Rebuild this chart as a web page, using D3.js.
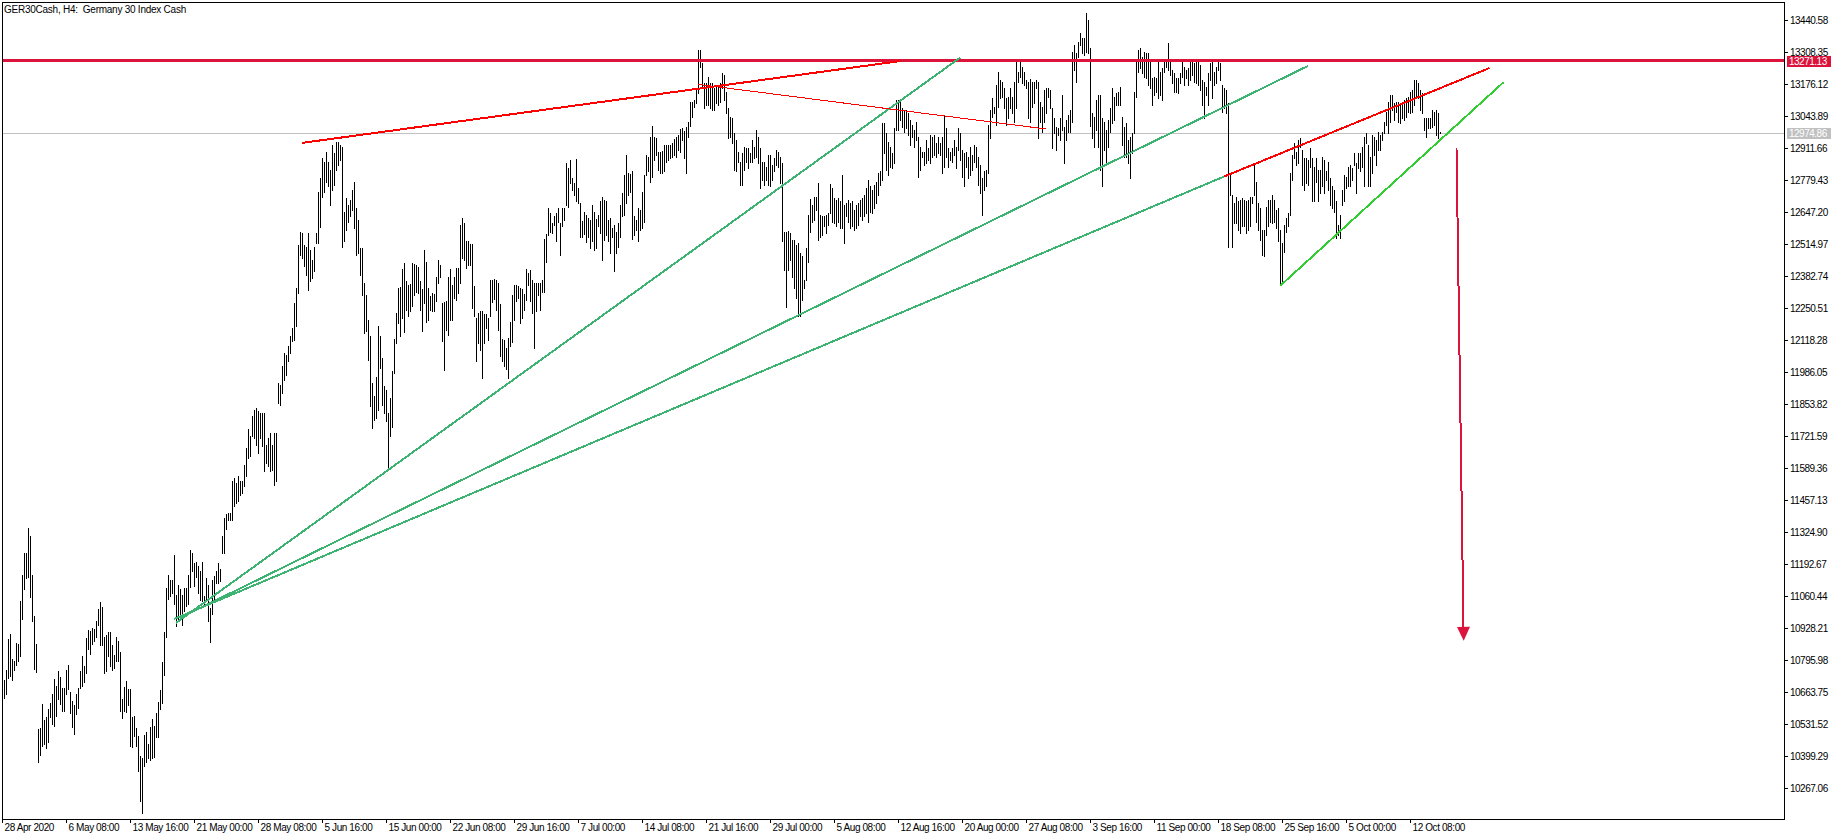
<!DOCTYPE html>
<html><head><meta charset="utf-8">
<script src="https://cdn.jsdelivr.net/npm/d3@7"></script>
<style>
html,body{margin:0;padding:0;background:#fff;}
svg{display:block;}
text{font-family:"Liberation Sans",Arial,sans-serif;}
</style></head>
<body><svg id="c" width="1842" height="840"></svg>
<script>
// ---------------- DATA ----------------
const chartTitle = "GER30Cash, H4:  Germany 30 Index Cash";

const barHigh = [
10715,10756,10883,10903,10798,10791,10866,10864,11041,11148,
11238,11238,11341,11309,11148,10979,10864,10511,10514,10616,
10547,10559,10594,10617,10657,10718,10690,10749,10726,10681,
10681,10756,10777,10663,10626,10608,10657,10681,10752,10811,
10770,10886,10919,10917,10928,10925,10956,11007,11036,11015,
10891,10901,10910,10910,10857,10818,10890,10876,10828,10636,
10685,10708,10678,10676,10559,10564,10515,10481,10401,10393,
10488,10499,10447,10518,10554,10522,10577,10623,10670,10788,
10913,11093,11148,11125,11125,11231,11066,11106,11089,11066,
11093,11093,11148,11249,11238,11197,11201,11183,11162,11201,
11059,11135,11104,11011,11128,11142,11163,11197,11170,11307,
11383,11399,11403,11403,11534,11548,11527,11555,11534,11534,
11603,11672,11752,11720,11802,11830,11837,11823,11816,11816,
11816,11685,11713,11734,11685,11734,11734,11940,11933,12009,
12064,12057,12091,12133,12167,12270,12332,12511,12566,12559,
12511,12504,12559,12490,12449,12504,12559,12731,12786,12869,
12855,12896,12855,12820,12924,12889,12937,12937,12924,12917,
12648,12704,12676,12697,12738,12772,12662,12614,12497,12497,
12353,12305,12201,12133,11940,11885,11967,12174,12133,12043,
11926,11913,11816,11878,11991,12122,12229,12332,12335,12412,
12435,12362,12346,12350,12435,12431,12428,12421,12360,12328,
12490,12439,12332,12298,12311,12307,12376,12449,12428,12270,
12273,12277,12379,12412,12346,12377,12415,12415,12593,12621,
12603,12527,12525,12515,12515,12342,12208,12229,12236,12236,
12226,12226,12208,12364,12366,12369,12366,12353,12266,12122,
12119,12084,12126,12194,12304,12346,12346,12342,12332,12328,
12309,12410,12394,12408,12366,12355,12353,12353,12355,12364,
12536,12555,12662,12642,12600,12628,12642,12665,12600,12662,
12662,12850,12830,12860,12786,12765,12865,12745,12683,12611,
12646,12635,12621,12614,12676,12648,12618,12635,12690,12710,
12697,12690,12614,12621,12580,12593,12566,12603,12676,12724,
12800,12882,12809,12803,12816,12628,12614,12662,12655,12731,
12800,12882,12875,12958,13002,12958,12951,12896,12896,12900,
12924,12924,12924,12924,12930,12947,12958,12965,12988,12992,
12983,12999,13020,13102,13102,13109,13151,13316,13316,13261,
13178,13178,13206,13178,13181,13157,13167,13167,13178,13219,
13212,13144,13075,13041,13034,12972,12944,12896,12855,12892,
12917,12910,12910,12889,12944,12917,12986,12958,12910,12855,
12855,12834,12882,12882,12841,12869,12903,12896,12875,12848,
12562,12566,12570,12559,12532,12532,12511,12518,12477,12463,
12366,12497,12635,12699,12676,12710,12710,12765,12635,12628,
12628,12635,12642,12761,12745,12703,12697,12703,12690,12800,
12676,12683,12697,12683,12690,12655,12676,12683,12697,12703,
12717,12745,12779,12752,12738,12758,12772,12807,12814,13013,
13013,12972,12937,12917,12889,12992,13109,13109,13102,13075,
13068,13068,13054,13027,13006,12986,13020,12958,12917,12896,
12896,12944,12910,12965,12958,12965,12930,12958,12930,12958,
13047,12992,12910,12896,12910,12944,12917,12992,12972,12903,
12889,12896,12875,12917,12882,12924,12917,12875,12841,12786,
12814,12820,13006,13068,13116,13082,13171,13226,13192,13185,
13157,13116,13123,13157,13123,13185,13268,13226,13268,13247,
13226,13192,13185,13195,13185,13185,13192,13185,13102,13082,
13151,13157,13157,13151,13075,13034,12999,12992,13034,13130,
12999,13027,13047,13068,13309,13336,13302,13350,13384,13364,
13364,13467,13439,13323,13054,13040,13109,13130,13130,13034,
13020,12986,13027,13075,13157,13123,13137,13144,13164,13041,
12999,13013,12944,12958,12972,13144,13268,13316,13323,13288,
13309,13302,13302,13268,13199,13206,13199,13268,13226,13240,
13274,13268,13343,13268,13233,13219,13199,13199,13219,13268,
13247,13233,13240,13268,13268,13261,13268,13268,13254,13192,
13185,13164,13219,13261,13268,13226,13247,13268,13261,13171,
13157,13151,13096,12800,12717,12683,12710,12690,12697,12703,
12697,12690,12697,12710,12710,12841,12772,12683,12662,12573,
12573,12669,12697,12697,12717,12697,12655,12662,12573,12518,
12593,12621,12642,12807,12882,12930,12896,12944,12951,12903,
12869,12869,12862,12910,12869,12834,12869,12820,12820,12875,
12862,12814,12855,12786,12752,12738,12690,12593,12635,12738,
12800,12793,12834,12841,12827,12889,12848,12889,12889,12917,
12958,12972,12924,12875,12965,12958,12944,12979,12965,12979,
13020,13061,13102,13130,13130,13096,13102,13102,13089,13089,
13109,13116,13123,13144,13151,13192,13192,13178,13151,13137,
13034,13034,13034,13034,13068,13061,13068,13054,12979
];

const barLow = [
10637,10656,10722,10729,10715,10756,10774,10791,10811,10965,
11089,11135,11139,11056,10956,10758,10747,10375,10403,10440,
10449,10433,10458,10561,10532,10522,10564,10635,10616,10586,
10584,10657,10676,10577,10518,10491,10573,10598,10681,10690,
10704,10742,10843,10821,10862,10873,10891,10939,10857,10859,
10742,10749,10811,10770,10753,10763,10791,10791,10584,10557,
10587,10581,10612,10440,10436,10481,10440,10337,10213,10165,
10357,10374,10392,10382,10389,10396,10477,10478,10595,10619,
10733,10890,11049,11059,11073,11027,10935,10963,10976,10942,
10997,11018,11027,11096,11165,11103,11137,11073,11045,11038,
11025,11038,10956,10869,10984,11046,11115,11115,11121,11238,
11238,11335,11376,11376,11376,11431,11445,11452,11479,11486,
11514,11555,11630,11637,11720,11713,11685,11651,11713,11679,
11575,11610,11596,11575,11582,11518,11534,11857,11851,11899,
11954,11974,12029,12064,12112,12119,12174,12311,12470,12456,
12422,12387,12325,12360,12373,12401,12518,12518,12584,12710,
12731,12772,12752,12676,12738,12759,12820,12841,12862,12504,
12525,12573,12607,12628,12655,12580,12470,12477,12387,12305,
12146,12153,12036,11844,11754,11789,11796,11830,12002,11851,
11816,11782,11586,11720,11758,11981,12105,12190,12135,12208,
12149,12243,12218,12236,12259,12304,12318,12311,12243,12156,
12270,12194,12201,12243,12236,12236,12277,12355,12380,12112,
11995,12160,12139,12201,12201,12291,12284,12311,12353,12456,
12449,12415,12428,12428,12249,12215,12033,12105,12078,11961,
12105,12167,12119,12215,12273,12288,12243,12160,12050,12029,
12009,11998,11961,12091,12108,12201,12277,12291,12188,12208,
12243,12284,12346,12277,12229,12084,12236,12304,12243,12318,
12318,12442,12552,12566,12559,12593,12525,12607,12470,12587,
12614,12676,12669,12765,12738,12717,12690,12683,12545,12545,
12556,12522,12545,12497,12525,12490,12497,12587,12559,12449,
12532,12552,12525,12477,12545,12401,12477,12504,12545,12628,
12635,12683,12717,12731,12536,12552,12573,12527,12573,12580,
12607,12800,12814,12772,12793,12862,12882,12820,12807,12807,
12814,12855,12862,12869,12875,12882,12875,12903,12896,12944,
12869,12809,12958,13002,13041,13082,13096,13137,13247,13157,
13075,13089,13089,13075,13068,13068,13096,13089,13102,13157,
13109,13054,12951,12958,12930,12820,12814,12855,12758,12758,
12820,12855,12827,12855,12855,12869,12875,12848,12745,12779,
12758,12779,12758,12752,12779,12814,12841,12834,12765,12525,
12408,12256,12408,12449,12380,12332,12291,12215,12215,12284,
12332,12366,12442,12566,12607,12614,12655,12532,12545,12552,
12587,12559,12593,12642,12607,12600,12587,12607,12580,12580,
12518,12628,12607,12580,12587,12573,12580,12593,12628,12614,
12628,12642,12607,12648,12642,12662,12683,12717,12758,12779,
12889,12820,12800,12834,12827,12848,12986,12986,13027,12999,
12979,12992,12965,12924,12958,12917,12944,12793,12820,12875,
12841,12848,12862,12848,12875,12882,12875,12889,12882,12807,
12834,12875,12834,12862,12855,12882,12827,12903,12862,12793,
12752,12834,12786,12800,12820,12855,12834,12758,12724,12635,
12738,12752,12807,12951,13040,13054,13006,13082,13116,13123,
13075,13006,13034,13075,13054,13020,13075,13185,13206,13178,
13171,13157,13034,13020,13082,13096,13157,12951,13020,12979,
13020,13054,13123,13075,12910,12972,12903,12965,12944,12986,
12848,12944,12979,12979,13020,13233,13185,13288,13336,13302,
13295,13309,13302,13000,12951,12917,12986,12917,12820,12752,
12903,12855,12917,12979,13013,13027,13089,13089,13089,12924,
12875,12875,12848,12786,12889,12972,13123,13226,13240,13219,
13206,13199,13171,13157,13089,13130,13144,13116,13130,13109,
13226,13247,13233,13212,13178,13144,13144,13137,13178,13206,
13171,13199,13171,13192,13212,13185,13178,13171,13151,13089,
13034,13130,13089,13192,13116,13171,13178,13233,13192,13061,
13075,13054,12504,12717,12504,12600,12600,12573,12559,12587,
12587,12559,12573,12587,12683,12717,12607,12573,12532,12470,
12463,12552,12587,12607,12600,12607,12580,12525,12346,12353,
12483,12566,12587,12635,12779,12869,12841,12848,12917,12759,
12738,12765,12759,12834,12690,12690,12772,12690,12724,12752,
12724,12779,12738,12676,12662,12648,12538,12552,12538,12676,
12690,12745,12752,12752,12779,12841,12724,12827,12814,12834,
12752,12930,12752,12752,12807,12882,12841,12903,12903,12944,
12972,13006,12972,13020,13068,13027,13061,13020,13013,13034,
13027,13041,13061,13054,13061,13089,13116,13116,13068,13054,
12986,12958,12992,12992,12999,13006,12965,12951,12972
];

const yTickValues = [13440.58,13308.35,13176.12,13043.89,12911.66,12779.43,12647.20,12514.97,
  12382.74,12250.51,12118.28,11986.05,11853.82,11721.59,11589.36,11457.13,11324.90,11192.67,
  11060.44,10928.21,10795.98,10663.75,10531.52,10399.29,10267.06];

const xTickBars = [-1,31,63,95,127,159,191,223,255,287,319,351,383,415,447,479,511,543,575,607,639,671,703];
const xTickLabels = ["28 Apr 2020","6 May 08:00","13 May 16:00","21 May 00:00","28 May 08:00","5 Jun 16:00",
  "15 Jun 00:00","22 Jun 08:00","29 Jun 16:00","7 Jul 00:00","14 Jul 08:00","21 Jul 16:00","29 Jul 00:00",
  "5 Aug 08:00","12 Aug 16:00","20 Aug 00:00","27 Aug 08:00","3 Sep 16:00","11 Sep 00:00","18 Sep 08:00",
  "25 Sep 16:00","5 Oct 00:00","12 Oct 08:00"];

const resistanceLevel = 13271.13;
const lastPrice = 12974.86;

// trend lines: [barIndex1, price1, barIndex2, price2]
const redTrendLines = [[149, 12932, 448, 13270], [610, 12793, 742.75, 13241.5]];
const thinRedLines = [[347, 13174, 521, 12989.5]];
const greenTrendLines = [[86, 10949, 478, 13284], [88, 10970, 652, 13250], [85, 10965, 610, 12793]];
const limeTrendLines = [[638.15, 12342, 749.8, 13183]];
const arrowLine = [726.25, 12909, 729.85, 10875];

// ---------------- DRAWING ----------------
const W = 1842, H = 840;
const plot = {left: 2, top: 2, right: 1784, bottom: 819};
const n = barHigh.length;
const svg = d3.select("#c");

const x = d3.scaleLinear().domain([0, n - 1]).range([4, 4 + 2 * (n - 1)]);
const y = d3.scaleLinear().domain([10267.06, 13440.58]).range([788, 19.8]);

svg.append("rect").attr("width", W).attr("height", H).attr("fill", "#fff");

svg.append("defs").append("clipPath").attr("id", "clip").append("rect")
  .attr("x", plot.left + 1).attr("y", plot.top + 1)
  .attr("width", plot.right - plot.left - 1).attr("height", plot.bottom - plot.top - 1);

const g = svg.append("g").attr("clip-path", "url(#clip)");

// bid line
g.append("line")
  .attr("x1", plot.left).attr("x2", plot.right)
  .attr("y1", Math.round(y(lastPrice)) + 0.5).attr("y2", Math.round(y(lastPrice)) + 0.5)
  .attr("stroke", "#C0C0C0").attr("stroke-width", 1).attr("shape-rendering", "crispEdges");

// bars
g.append("g").selectAll("line").data(d3.range(n)).join("line")
  .attr("x1", i => Math.round(x(i)) + 0.5).attr("x2", i => Math.round(x(i)) + 0.5)
  .attr("y1", i => Math.round(y(barHigh[i])))
  .attr("y2", i => Math.round(y(barLow[i])) + 1)
  .attr("stroke", "#000").attr("stroke-width", 1).attr("shape-rendering", "crispEdges");

// resistance horizontal line
g.append("line")
  .attr("x1", plot.left).attr("x2", plot.right)
  .attr("y1", y(resistanceLevel)).attr("y2", y(resistanceLevel))
  .attr("stroke", "#DC143C").attr("stroke-width", 3).attr("shape-rendering", "crispEdges");

function drawLines(data, color, width) {
  g.append("g").selectAll("line").data(data).join("line")
    .attr("x1", d => x(d[0])).attr("y1", d => y(d[1]))
    .attr("x2", d => x(d[2])).attr("y2", d => y(d[3]))
    .attr("stroke", color).attr("stroke-width", width)
    .attr("shape-rendering", "crispEdges");
}
drawLines(greenTrendLines, "#3CB371", 2);
drawLines(limeTrendLines, "#32CD32", 2);
drawLines(redTrendLines, "#FF0000", 2);
drawLines(thinRedLines, "#FF0000", 1);

// arrow
(function () {
  const x1 = x(arrowLine[0]), y1 = y(arrowLine[1]), x2 = x(arrowLine[2]), y2 = y(arrowLine[3]);
  const dx = x2 - x1, dy = y2 - y1, len = Math.hypot(dx, dy);
  const ux = dx / len, uy = dy / len, headL = 14, headW = 6.5;
  const bx = x2 - ux * headL, by = y2 - uy * headL;
  g.append("line").attr("x1", x1).attr("y1", y1).attr("x2", bx).attr("y2", by)
    .attr("stroke", "#DC143C").attr("stroke-width", 2).attr("shape-rendering", "crispEdges");
  g.append("polygon")
    .attr("points", [[x2, y2], [bx - uy * headW, by + ux * headW], [bx + uy * headW, by - ux * headW]].map(p => p.join(",")).join(" "))
    .attr("fill", "#DC143C");
})();

// frame
svg.append("rect")
  .attr("x", plot.left + 0.5).attr("y", plot.top + 0.5)
  .attr("width", plot.right - plot.left).attr("height", plot.bottom - plot.top)
  .attr("fill", "none").attr("stroke", "#000").attr("stroke-width", 1)
  .attr("shape-rendering", "crispEdges");

// title
svg.append("text").attr("x", 4).attr("y", 13)
  .attr("font-size", 10).attr("letter-spacing", -0.25)
  .style("white-space", "pre").attr("fill", "#000").text(chartTitle);

// y axis
const yAxis = d3.axisRight(y).tickValues(yTickValues).tickSize(4).tickPadding(2).tickFormat(d3.format(".2f"));
const yg = svg.append("g").attr("transform", `translate(${plot.right},0)`).call(yAxis);
yg.select(".domain").remove();
yg.selectAll("line").attr("shape-rendering", "crispEdges");
yg.selectAll("text").attr("font-family", "Liberation Sans, Arial, sans-serif").attr("font-size", 10)
  .attr("letter-spacing", -0.5).attr("fill", "#000");

// x axis
const xAxis = d3.axisBottom(x).tickValues(xTickBars).tickSize(4).tickPadding(1)
  .tickFormat((d, i) => xTickLabels[i]);
const xg = svg.append("g").attr("transform", `translate(0,${plot.bottom})`).call(xAxis);
xg.select(".domain").remove();
xg.selectAll("line").attr("shape-rendering", "crispEdges");
xg.selectAll("text").attr("font-family", "Liberation Sans, Arial, sans-serif").attr("font-size", 10)
  .attr("letter-spacing", -0.4).attr("text-anchor", "start").attr("x", 2).attr("fill", "#000");

// price labels on the right axis
function priceTag(value, bg) {
  const cy = Math.round(y(value));
  svg.append("rect").attr("x", 1787).attr("y", cy - 5).attr("width", 44).attr("height", 11)
    .attr("fill", bg).attr("shape-rendering", "crispEdges");
  svg.append("text").attr("x", 1789).attr("y", cy + 0.5).attr("dy", "0.35em")
    .attr("font-size", 10).attr("letter-spacing", -0.5).attr("fill", "#fff")
    .text(d3.format(".2f")(value));
}
priceTag(resistanceLevel, "#DC143C");
priceTag(lastPrice, "#C0C0C0");
</script>
</body></html>
